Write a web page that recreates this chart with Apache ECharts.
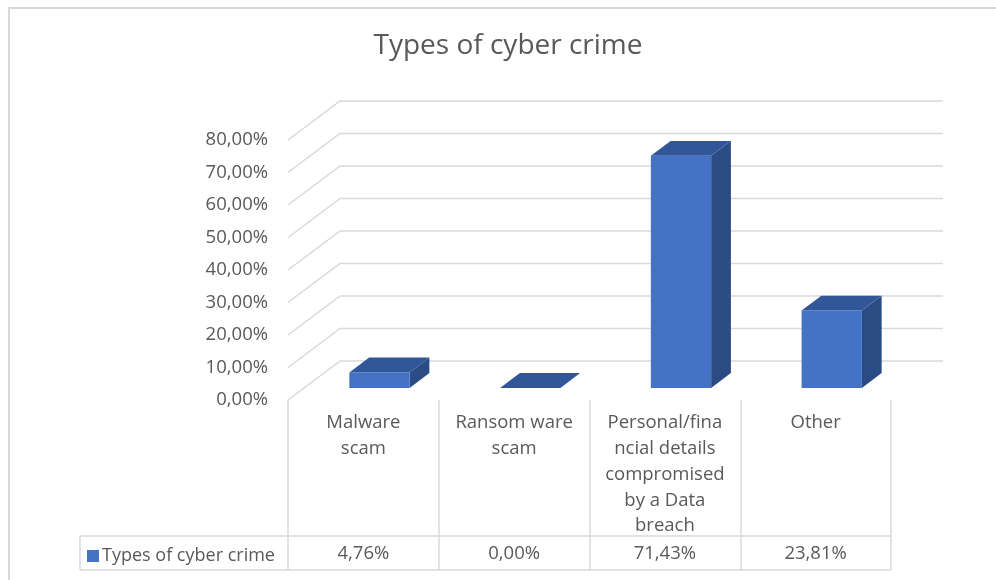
<!DOCTYPE html>
<html>
<head>
<meta charset="utf-8">
<title>Types of cyber crime</title>
<script src="https://cdn.jsdelivr.net/npm/echarts@6/dist/echarts.min.js"></script>
<style>
  html, body { margin: 0; padding: 0; background: #ffffff; }
  #chart { width: 996px; height: 580px; }
</style>
</head>
<body>
<div id="chart"></div>
<script>
// Chart data
const seriesName = 'Types of cyber crime';
const categories = [
  'Malware\nscam',
  'Ransom ware\nscam',
  'Personal/fina\nncial details\ncompromised\nby a Data\nbreach',
  'Other'
];
const values = [4.76, 0.00, 71.43, 23.81];
const yTicks = [0, 10, 20, 30, 40, 50, 60, 70, 80];

// Look and layout
const FONT = '"Open Sans", Lato, sans-serif';
const FS = 18.5;
const TEXT = '#595959';
const LINE = '#d9d9d9';
const DEPTH_X = 52, DEPTH_Y = -39;      // floor depth projection
const BAR_FRONT = 0.31, BAR_BACK = 0.69; // bar position along the depth
const BAR_WIDTH = 0.4;                  // fraction of a category band
const FACE = '#4472C4', TOP = '#325799', SIDE = '#2A4B84';

const pct = v => v.toFixed(2).replace('.', ',') + '%';

const chart = echarts.init(document.getElementById('chart'), null, { renderer: 'canvas' });

// Back wall gridlines: short diagonal on the left wall, then across the back
function renderGridLine(params, api) {
  const cs = params.coordSys;
  const p = api.coord([0, api.value(0)]);
  const x0 = cs.x, y = p[1];
  return {
    type: 'polyline',
    shape: { points: [[x0, y], [x0 + DEPTH_X, y + DEPTH_Y], [x0 + cs.width + DEPTH_X, y + DEPTH_Y]] },
    style: { stroke: LINE, lineWidth: 1.5, fill: null },
    silent: true
  };
}

// 3D column: front, top and right faces, plus its value in the data table row
function renderBar(params, api) {
  const cs = params.coordSys;
  const idx = api.value(0);
  const val = api.value(1);
  const top = api.coord([idx, val]);
  const base = api.coord([idx, 0]);
  const band = api.size([1, 0])[0];
  const w = band * BAR_WIDTH;
  const fx = BAR_FRONT * DEPTH_X, fy = BAR_FRONT * DEPTH_Y;
  const ox = (BAR_BACK - BAR_FRONT) * DEPTH_X, oy = (BAR_BACK - BAR_FRONT) * DEPTH_Y;
  const xl = top[0] - w / 2 + fx, xr = top[0] + w / 2 + fx;
  const yt = top[1] + fy, yb = base[1] + fy;
  const children = [];
  if (yb - yt > 0.5) {
    children.push({
      type: 'polygon',
      shape: { points: [[xr, yt], [xr, yb], [xr + ox, yb + oy], [xr + ox, yt + oy]] },
      style: { fill: SIDE }
    });
    children.push({
      type: 'rect',
      shape: { x: xl, y: yt, width: w, height: yb - yt },
      style: { fill: FACE }
    });
  }
  children.push({
    type: 'polygon',
    shape: { points: [[xl, yt], [xr, yt], [xr + ox, yt + oy], [xl + ox, yt + oy]] },
    style: { fill: TOP }
  });
  // value cell of the data table
  children.push({
    type: 'text',
    style: {
      text: pct(val),
      x: top[0],
      y: cs.y + cs.height + 154,
      align: 'center',
      verticalAlign: 'middle',
      fill: TEXT,
      font: FS + 'px ' + FONT
    }
  });
  return { type: 'group', children };
}

const tableTop = 536, tableBottom = 570, tableLeft = 80, tableRight = 891;

const option = {
  backgroundColor: '#ffffff',
  animation: false,
  title: {
    text: 'Types of cyber crime',
    left: 503,
    top: 27,
    textAlign: 'center',
    textStyle: { color: TEXT, fontFamily: FONT, fontSize: 28, fontWeight: 'normal' }
  },
  legend: {
    data: [seriesName],
    left: 87,
    top: 547,
    padding: 0,
    icon: 'rect',
    itemWidth: 12,
    itemHeight: 12,
    itemGap: 4,
    textStyle: { color: TEXT, fontFamily: FONT, fontSize: 18, padding: [0, 0, 0, -2] },
    selectedMode: false
  },
  grid: { left: 288, right: 105, top: 140, bottom: 180, containLabel: false },
  xAxis: {
    type: 'category',
    data: categories,
    boundaryGap: true,
    axisLine: { show: false },
    axisTick: { show: true, length: 170, lineStyle: { color: LINE, width: 1.5 } },
    axisLabel: {
      interval: 0,
      margin: 10,
      color: TEXT,
      fontFamily: FONT,
      fontSize: FS,
      lineHeight: 25.8,
      align: 'center'
    },
    splitLine: { show: false }
  },
  yAxis: {
    type: 'value',
    min: 0,
    max: 80,
    interval: 10,
    axisLine: { show: false },
    axisTick: { show: false },
    splitLine: { show: false },
    axisLabel: {
      margin: 20,
      color: TEXT,
      fontFamily: FONT,
      fontSize: FS,
      formatter: v => pct(v)
    }
  },
  series: [
    {
      type: 'custom',
      name: 'gridlines',
      renderItem: renderGridLine,
      data: yTicks.map(v => [v]),
      encode: { y: 0 },
      z: 1,
      silent: true,
      tooltip: { show: false }
    },
    {
      type: 'custom',
      name: seriesName,
      renderItem: renderBar,
      itemStyle: { color: FACE },
      data: values.map((v, i) => [i, v]),
      encode: { x: 0, y: 1 },
      z: 5
    }
  ],
  graphic: [
    // chart area border
    { type: 'line', shape: { x1: 9, y1: 8, x2: 9, y2: 580 }, style: { stroke: LINE, lineWidth: 2 }, silent: true },
    { type: 'line', shape: { x1: 8, y1: 8, x2: 996, y2: 8 }, style: { stroke: LINE, lineWidth: 2 }, silent: true },
    // data table frame
    { type: 'line', shape: { x1: tableLeft, y1: tableTop, x2: tableRight, y2: tableTop }, style: { stroke: LINE, lineWidth: 1.5 }, silent: true },
    { type: 'line', shape: { x1: tableLeft, y1: tableBottom, x2: tableRight, y2: tableBottom }, style: { stroke: LINE, lineWidth: 1.5 }, silent: true },
    { type: 'line', shape: { x1: tableLeft, y1: tableTop, x2: tableLeft, y2: tableBottom }, style: { stroke: LINE, lineWidth: 1.5 }, silent: true }
  ]
};

chart.setOption(option);
</script>
</body>
</html>
